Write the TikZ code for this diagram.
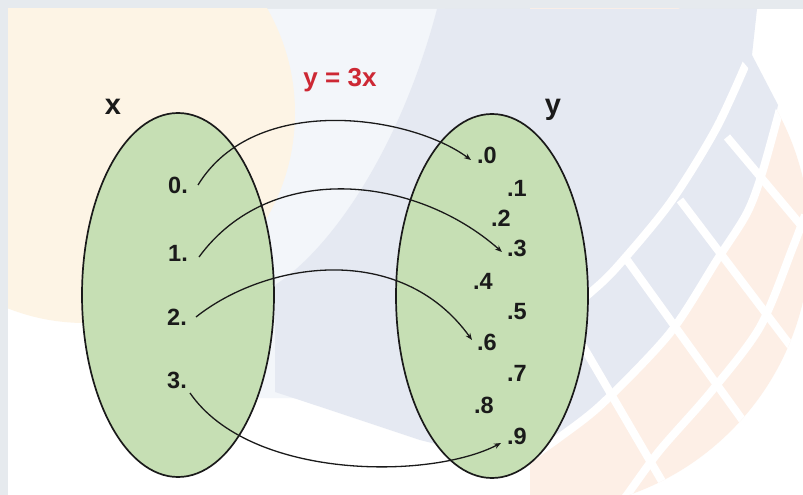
\documentclass[tikz,border=0pt]{standalone}
\usepackage{fontspec}
\setmainfont{Liberation Sans}
\usetikzlibrary{shapes.geometric,arrows.meta}
\definecolor{framegray}{HTML}{E6EAEE}
\definecolor{beige}{HTML}{FDF4E5}
\definecolor{lightband}{HTML}{F3F6FA}
\definecolor{bluebg}{HTML}{E5E9F2}
\definecolor{peach}{HTML}{FDEFE6}
\definecolor{setgreen}{HTML}{C6DFB4}
\definecolor{fred}{RGB}{205,40,52}
\definecolor{ink}{HTML}{1A1A1A}
\begin{document}
\begin{tikzpicture}[x=1pt,y=-1pt,
  setell/.style={ellipse, draw=ink, line width=1.7pt, fill=setgreen,
    minimum width=192pt, minimum height=364pt, inner sep=0pt},
  lbl/.style={font=\fontsize{23.5}{26}\selectfont\bfseries, text=ink, inner sep=0pt},
  setname/.style={font=\fontsize{29}{32}\selectfont\bfseries, text=ink, inner sep=0pt},
  mapar/.style={draw=ink, line width=1.3pt, -{Stealth[length=7pt,width=5.5pt]}},
  latt/.style={draw=white, line width=8pt}]
\useasboundingbox (0,0) rectangle (803,495);
% background
\fill[framegray] (0,0) rectangle (803,495);
\fill[white] (8,9) rectangle (803,495);
\begin{scope}
  \clip (8,9) rectangle (803,495);
  \fill[lightband] (250,9) -- (445,9) -- (445,300) -- (300,398) -- (250,398) -- cycle;
  \fill[beige] (85,113) circle[radius=210];
  \begin{scope}
    \clip (530,0) rectangle (803,495);
    \fill[peach] (540,240) circle[radius=270];
  \end{scope}
  \fill[bluebg] (437,9) -- (757,9) -- (752,55) -- (778,105)
    -- plot[smooth] coordinates {(778,105) (763,170) (747,213) (717,260) (670,333) (603,403) (560,437) (520,465)}
    -- (420,440) .. controls (360,420) and (300,400) .. (275,392)
    -- (275,285) .. controls (330,250) and (400,150) .. (437,9) -- cycle;
  \begin{scope}
    \clip (540,240) circle[radius=270];
    \draw[latt] plot[smooth] coordinates {(752,50) (717,127) (670,203) (617,267) (590,293) (555,322) (520,350)};
    \draw[latt] plot[smooth] coordinates {(785,90) (763,170) (747,213) (717,260) (670,333) (603,403) (560,437) (520,465)};
    \draw[latt] plot[smooth] coordinates {(805,215) (793,247) (760,327) (710,393) (660,450) (627,495) (615,510)};
    \draw[latt] (727,137) -- (805,230);
    \draw[latt] (680,200) -- (805,365);
    \draw[latt] (627,260) -- (800,500);
    \draw[latt] (556,300) -- (670,495);
  \end{scope}
\end{scope}
% sets
\node[setell] (X) at (178,295) {};
\node[setell] (Y) at (492,296) {};
\node[setname] (xl) at (113,107) {x};
\node[setname, anchor=base] (yl) at (553,114) {y};
\node[font=\fontsize{26}{30}\selectfont\bfseries, text=fred, inner sep=0pt] (title) at (340,80) {y = 3x};
% domain labels
\node[lbl] (x0) at (178,185) {0.};
\node[lbl] (x1) at (178,253) {1.};
\node[lbl] (x2) at (177,317) {2.};
\node[lbl] (x3) at (177,380) {3.};
% codomain labels
\node[lbl] (y0) at (487,155) {.0};
\node[lbl] (y1) at (517,188) {.1};
\node[lbl] (y2) at (501,218) {.2};
\node[lbl] (y3) at (517,248) {.3};
\node[lbl] (y4) at (483,281) {.4};
\node[lbl] (y5) at (517,312) {.5};
\node[lbl] (y6) at (487,342) {.6};
\node[lbl] (y7) at (517,373) {.7};
\node[lbl] (y8) at (484,405) {.8};
\node[lbl] (y9) at (517,436) {.9};
% arrow ends
\coordinate (s0) at (198,185);
\coordinate (s1) at (199,257);
\coordinate (s2) at (196,317);
\coordinate (s3) at (190,393);
\coordinate (t0) at (471,160);
\coordinate (t1) at (502,252);
\coordinate (t2) at (472,340);
\coordinate (t3) at (501,443);
\draw[mapar] (s0) .. controls (255,92) and (410,115) .. (t0);
\draw[mapar] (s1) .. controls (270,160) and (415,175) .. (t1);
\draw[mapar] (s2) .. controls (265,262) and (400,240) .. (t2);
\draw[mapar] (s3) .. controls (250,480) and (430,480) .. (t3);
\end{tikzpicture}
\end{document}
